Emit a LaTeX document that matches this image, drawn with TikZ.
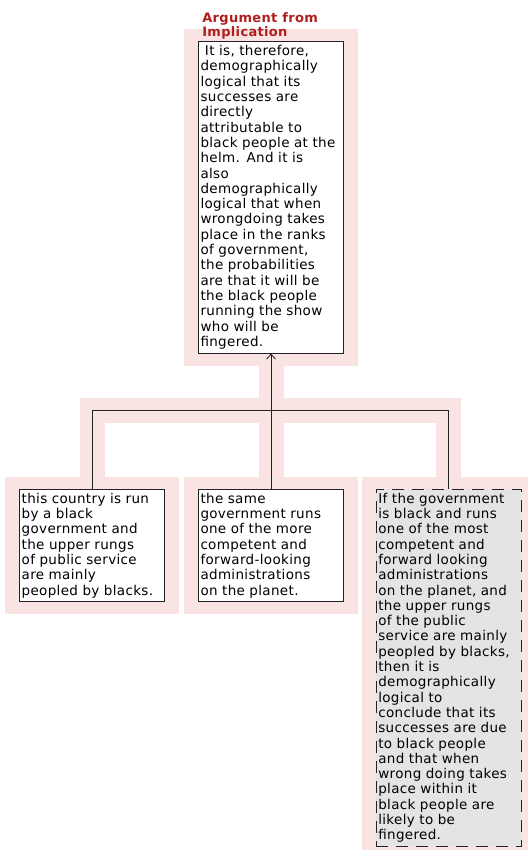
\documentclass[tikz,border=0pt]{standalone}
\usepackage{fontspec}
\setmainfont[LetterSpace=2.5]{DejaVu Sans}
\usepackage{tikz}
\usetikzlibrary{arrows.meta, positioning, fit, backgrounds}
\definecolor{ClaimRed}{HTML}{B01E1E}
\definecolor{BandPink}{HTML}{FAE3E3}
\definecolor{PremiseGray}{HTML}{E4E4E4}
\definecolor{EdgeBlack}{HTML}{222222}

\begin{document}
\begin{tikzpicture}[
  argbox/.style={rectangle, draw=EdgeBlack, line width=0.8pt, fill=white,
    text width=141pt, inner xsep=2pt, inner ysep=4pt, align=left,
    font=\fontsize{13.5}{15.3}\selectfont, text=black},
  assumed/.style={argbox, fill=PremiseGray, dash pattern=on 12pt off 8pt},
  schemetitle/.style={inner sep=0pt, align=left, text=ClaimRed,
    font=\bfseries\fontsize{13}{14}\selectfont},
  bandbg/.style={rectangle, fill=BandPink, inner xsep=14pt, inner ysep=12pt},
  band/.style={BandPink, line width=25pt},
  link/.style={EdgeBlack, line width=0.8pt},
  arrow/.style={link, -{Straight Barb[length=5pt, width=9pt]}}
]
\useasboundingbox (-271pt,41pt) rectangle (256pt,-809pt);

%% Conclusion
\node[argbox, anchor=north] (claim) at (0,0)
  {\ It is, therefore,\\demographically\\logical that its\\successes are\\directly\\attributable to\\black people at the\\helm. And it is\\also\\demographically\\logical that when\\wrongdoing takes\\place in the ranks\\of government,\\the probabilities\\are that it will be\\the black people\\running the show\\who will be\\fingered.};
\node[schemetitle, anchor=south west] (scheme) at ([xshift=4pt, yshift=1.5pt]claim.north west)
  {Argument from\\Implication};

%% Premises
\node[argbox, below=135pt of claim] (samegov)
  {the same\\government runs\\one of the more\\competent and\\forward-looking\\administrations\\on the planet.};
\node[argbox, left=33pt of samegov.north west, anchor=north east] (blackgov)
  {this country is run\\by a black\\government and\\the upper rungs\\of public service\\are mainly\\peopled by blacks.};
\node[assumed, right=32pt of samegov.north east, anchor=north west] (implies)
  {If the government\\is black and runs\\one of the most\\competent and\\forward looking\\administrations\\on the planet, and\\the upper rungs\\of the public\\service are mainly\\peopled by blacks,\\then it is\\demographically\\logical to\\conclude that its\\successes are due\\to black people\\and that when\\wrong doing takes\\place within it\\black people are\\likely to be\\fingered.};

\coordinate[below=57pt of claim.south] (join);

%% Pink backdrop
\begin{scope}[on background layer]
  \node[bandbg, fit=(claim)] (claimbg) {};
  \node[bandbg, fit=(blackgov)] (blackgovbg) {};
  \node[bandbg, fit=(samegov)] (samegovbg) {};
  \node[bandbg, fit=(implies)] (impliesbg) {};
  \draw[band] (blackgov.north) |- (join) -| (implies.north);
  \draw[band] (samegov.north) -- (join) -- (claim.south);
\end{scope}

%% Links
\draw[link] (blackgov.north) |- (join) -| (implies.north);
\draw[link] (samegov.north) -- (join);
\draw[arrow] (join) -- (claim.south);

\end{tikzpicture}
\end{document}
